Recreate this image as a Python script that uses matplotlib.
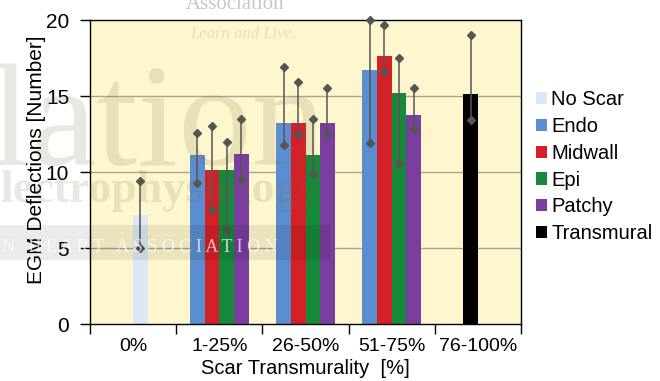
import numpy as np
import matplotlib
matplotlib.use("Agg")
import matplotlib.pyplot as plt
from matplotlib.patches import Rectangle

# ---------------- data ----------------
categories = ["0%", "1-25%", "26-50%", "51-75%", "76-100%"]
series = ["No Scar", "Endo", "Midwall", "Epi", "Patchy", "Transmural"]
nan = np.nan
values = {
    "No Scar":    [7.2, nan, nan, nan, nan],
    "Endo":       [nan, 11.1, 13.2, 16.7, nan],
    "Midwall":    [nan, 10.1, 13.2, 17.6, nan],
    "Epi":        [nan, 10.1, 11.1, 15.2, nan],
    "Patchy":     [nan, 11.2, 13.2, 13.75, nan],
    "Transmural": [nan, nan, nan, nan, 15.1],
}
err_top = {
    "No Scar":    [9.4, nan, nan, nan, nan],
    "Endo":       [nan, 12.55, 16.9, 20.0, nan],
    "Midwall":    [nan, 13.0, 15.9, 19.7, nan],
    "Epi":        [nan, 12.0, 13.5, 17.5, nan],
    "Patchy":     [nan, 13.5, 15.5, 15.5, nan],
    "Transmural": [nan, nan, nan, nan, 19.0],
}
err_bottom = {
    "No Scar":    [5.0, nan, nan, nan, nan],
    "Endo":       [nan, 9.3, 11.8, 11.9, nan],
    "Midwall":    [nan, 7.5, 12.5, 16.6, nan],
    "Epi":        [nan, 6.2, 9.9, 10.6, nan],
    "Patchy":     [nan, 9.5, 12.5, 12.8, nan],
    "Transmural": [nan, nan, nan, nan, 13.4],
}
yticks = [0, 5, 10, 15, 20]

# ---------------- style ----------------
colors = {
    "No Scar": "#DCE8F6",
    "Endo": "#5B8ED0",
    "Midwall": "#D42128",
    "Epi": "#17893A",
    "Patchy": "#7A3E9E",
    "Transmural": "#000000",
}
offsets = {"No Scar": 0.5, "Endo": -1.5, "Midwall": -0.5, "Epi": 0.5,
           "Patchy": 1.5, "Transmural": -0.5}
bw = 0.17
plt.rcParams["font.family"] = ["Liberation Sans", "DejaVu Sans"]

fig = plt.figure(figsize=(6.6, 3.81), dpi=100)
ax = fig.add_axes([90/660, 1-324/381, (521-90)/660, (324-20)/381])
ax.set_facecolor("#FEF7CD")

x = np.arange(len(categories))
ecol = "#555555"
for s in series:
    v = np.array(values[s], dtype=float)
    xs = x + offsets[s]*bw
    m = ~np.isnan(v)
    ax.bar(xs[m], v[m], width=bw, color=colors[s], label=s, zorder=2,
           edgecolor="none")
    hi = np.array(err_top[s], dtype=float)[m]
    lo = np.array(err_bottom[s], dtype=float)[m]
    ax.vlines(xs[m], lo, hi, color=ecol, lw=1.1, zorder=3)
    ax.plot(np.concatenate([xs[m], xs[m]]), np.concatenate([lo, hi]),
            linestyle="none", marker="D", ms=4.0, color=ecol, zorder=4,
            clip_on=False)

ax.set_xlim(-0.5, len(categories)-0.5)
ax.set_ylim(0, 20)
ax.set_yticks(yticks)
ax.set_yticklabels([str(t) for t in yticks], fontsize=15)
ax.set_xticks(x)
ax.set_xticklabels(categories, fontsize=14)
ax.tick_params(axis="x", which="major", length=0, pad=10)
ax.set_xticks(np.arange(-0.5, len(categories)), minor=True)
ax.tick_params(axis="x", which="minor", length=7, direction="out", width=1)
ax.tick_params(axis="y", length=7, direction="out", width=1, pad=8)
for g in [5, 10, 15]:
    ax.axhline(g, color="#A7A49A", lw=1, zorder=1)
for sp in ax.spines.values():
    sp.set_color("black")
    sp.set_linewidth(1)
ax.set_ylabel("EGM Deflections [Number]", fontsize=15)
ax.yaxis.set_label_coords(-(90-46)/431, (324-160)/304)
ax.set_xlabel("Scar Transmurality  [%]", fontsize=14.5)
ax.xaxis.set_label_coords(0.5, -(359-324)/304)

leg = fig.legend(loc="upper left", bbox_to_anchor=(528/660, 1-82/381),
                 frameon=False, fontsize=14.5, handlelength=0.55,
                 handleheight=0.55, handletextpad=0.2, labelspacing=0.39,
                 borderaxespad=0)

# ---------------- faint watermark ----------------
wm = dict(transform=fig.transFigure, zorder=10)
fig.text(186/660, 1-9/381, "Association", fontsize=15, family="Liberation Serif",
         color="black", alpha=0.22, **wm)
fig.text(190/660, 1-38/381, "Learn and Live.", fontsize=12, family="Liberation Serif",
         style="italic", color="black", alpha=0.10, **wm)
fig.text(-10/660, 1-165/381, "lation", fontsize=106, family="Liberation Serif",
         color="#6B6640", alpha=0.15, **wm)
fig.text(0/660, 1-202/381, "lectrophysiology", fontsize=33, family="Liberation Serif",
         weight="bold", color="#6B6640", alpha=0.15, **wm)
fig.patches.append(Rectangle((0, 1-260/381), 330/660, 35/381, transform=fig.transFigure,
                             facecolor="black", alpha=0.08, edgecolor="none", zorder=9))
fig.text(2/660, 1-252/381, "N   H E A R T   A S S O C I A T I O N", fontsize=13,
         family="Liberation Serif", color="white", alpha=0.7, **wm)

fig.savefig("out.png", dpi=100)
